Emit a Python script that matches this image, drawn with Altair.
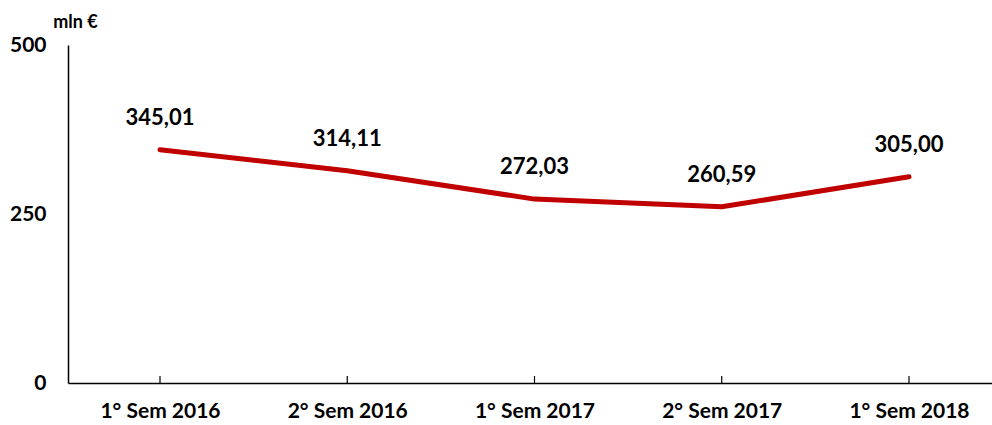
import altair as alt
import pandas as pd

categories = ["1° Sem 2016", "2° Sem 2016", "1° Sem 2017", "2° Sem 2017", "1° Sem 2018"]
values = [345.01, 314.11, 272.03, 260.59, 305.00]

df = pd.DataFrame({
    "cat": categories,
    "idx": list(range(len(categories))),
    "val": values,
    "lbl": [f"{v:.2f}".replace(".", ",") for v in values],
})

FONT = "Lato"
W, H = 924, 338

label_expr = "[" + ",".join(f"'{c}'" for c in categories) + "][datum.value]"

x = alt.X("idx:Q",
          scale=alt.Scale(domain=[-0.4913, 4.4433], nice=False, zero=False),
          axis=alt.Axis(values=list(range(len(categories))), labelExpr=label_expr,
                        ticks=False, grid=False, domainColor="#000", domainWidth=1.5,
                        labelFont=FONT, labelFontSize=21, labelFontWeight="bold",
                        labelColor="#000", labelPadding=17, title=None))
y = alt.Y("val:Q",
          scale=alt.Scale(domain=[0, 500], nice=False),
          axis=alt.Axis(values=[0, 250, 500], ticks=False, grid=False,
                        domainColor="#000", domainWidth=1.5,
                        labelFont=FONT, labelFontSize=21, labelFontWeight="bold",
                        labelColor="#000", labelPadding=22,
                        title="mln €", titleAngle=0, titleX=7, titleY=-23,
                        titleAlign="center", titleBaseline="middle",
                        titleFont=FONT, titleFontSize=18, titleFontWeight="bold",
                        titleColor="#000"))

base = alt.Chart(df)

line = base.mark_line(color="#C00000", strokeWidth=5, strokeCap="round",
                      strokeJoin="round").encode(x=x, y=y)

labels = base.mark_text(font=FONT, fontSize=22, fontWeight="bold", color="#000",
                        dy=-32, baseline="middle").encode(x="idx:Q", y="val:Q", text="lbl:N")

ticks = base.mark_rule(color="#000", strokeWidth=1.2).encode(
    x="idx:Q", y=alt.value(H - 7), y2=alt.value(H))

chart = alt.layer(ticks, line, labels).properties(
    width=W, height=H,
    background="white",
    autosize=alt.AutoSizeParams(type="none"),
    padding={"left": 68, "top": 45, "right": 0, "bottom": 42},
).configure_view(stroke=None, strokeWidth=0)

chart.save("out.html", embed_options={"renderer": "svg", "actions": False})
